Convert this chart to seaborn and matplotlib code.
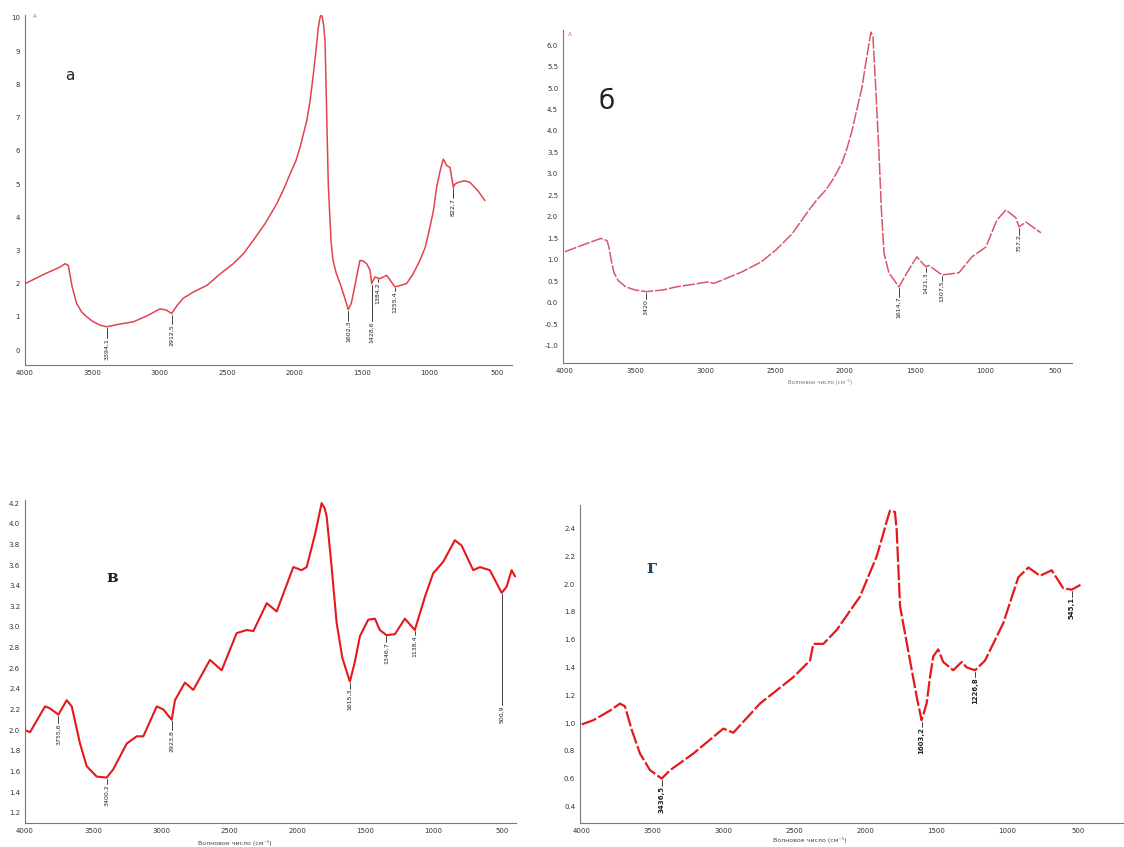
import numpy as np
import pandas as pd
import matplotlib
matplotlib.use("Agg")
import matplotlib.pyplot as plt
import seaborn as sns
from matplotlib.ticker import MultipleLocator, FormatStrFormatter

sns.set_style("white")
plt.rcParams['font.family'] = ['DejaVu Sans']

# ---------------- data ----------------
# Panel а
a_wn = [4000, 3850, 3740, 3703, 3679, 3650, 3617, 3580, 3542, 3500, 3444, 3394, 3300, 3197,
        3100, 2998, 2950, 2912, 2870, 2826, 2750, 2650, 2550, 2455, 2380, 2307, 2220, 2133,
        2080, 2034, 1990, 1960, 1935, 1910, 1885, 1861, 1842, 1824, 1812, 1804, 1796, 1785,
        1774, 1750, 1730, 1715, 1690, 1662, 1630, 1602, 1580, 1564, 1540, 1515, 1490, 1465,
        1440, 1428, 1404, 1366, 1317, 1255, 1169, 1120, 1070, 1030, 996, 970, 946, 920, 897,
        870, 847, 822, 810, 785, 740, 699, 640, 588]
a_val = [2.0, 2.3, 2.5, 2.6, 2.55, 1.9, 1.4, 1.15, 1.0, 0.87, 0.75, 0.7, 0.78, 0.85,
         1.02, 1.24, 1.2, 1.1, 1.35, 1.56, 1.75, 1.95, 2.3, 2.6, 2.9, 3.3, 3.8, 4.4,
         4.85, 5.3, 5.7, 6.1, 6.5, 6.9, 7.5, 8.3, 9.0, 9.7, 10.0, 10.1, 10.05, 9.8,
         9.3, 5.0, 3.3, 2.7, 2.3, 2.0, 1.6, 1.22, 1.4, 1.7, 2.2, 2.7, 2.68, 2.6,
         2.4, 2.0, 2.2, 2.15, 2.25, 1.9, 2.0, 2.3, 2.7, 3.1, 3.7, 4.2, 4.9, 5.4, 5.75,
         5.55, 5.5, 4.9, 5.0, 5.05, 5.1, 5.05, 4.8, 4.5]
a_peaks = [3394, 2912, 1602, 1428, 1384, 1255, 822]
a_labels = ["3394,1", "2912,5", "1602,3", "1428,6", "1384,2", "1255,4", "822,7"]

# Panel б
b_wn = [4000, 3870, 3743, 3700, 3686, 3670, 3650, 3620, 3565, 3500, 3420, 3300, 3207, 2971,
        2940, 2900, 2736, 2600, 2493, 2379, 2257, 2200, 2136, 2080, 2021, 1985, 1950, 1915,
        1879, 1850, 1830, 1814, 1800, 1780, 1757, 1740, 1721, 1686, 1614, 1557, 1486, 1440,
        1421, 1400, 1307, 1186, 1093, 993, 914, 850, 779, 757, 707, 600]
b_val = [1.19, 1.35, 1.5, 1.45, 1.3, 1.0, 0.7, 0.52, 0.37, 0.3, 0.26, 0.3, 0.37, 0.49,
         0.45, 0.5, 0.72, 0.95, 1.23, 1.6, 2.16, 2.4, 2.63, 2.9, 3.26, 3.6, 4.0, 4.5,
         5.0, 5.6, 6.0, 6.3, 6.2, 5.0, 3.5, 2.2, 1.16, 0.7, 0.37, 0.7, 1.07, 0.9,
         0.84, 0.87, 0.65, 0.7, 1.07, 1.3, 1.93, 2.16, 1.98, 1.77, 1.88, 1.63]
b_peaks = [3420, 1614, 1421, 1307, 757]
b_labels = ["3420", "1614,7", "1421,3", "1307,5", "757,2"]

# Panel в
c_wn = [4000, 3963, 3853, 3816, 3755, 3694, 3657, 3596, 3547, 3474, 3400, 3352, 3253, 3180,
        3131, 3033, 2984, 2923, 2899, 2826, 2764, 2642, 2556, 2446, 2372, 2323, 2225, 2152,
        2030, 1969, 1932, 1870, 1822, 1800, 1785, 1750, 1712, 1670, 1615, 1580, 1541, 1480,
        1431, 1395, 1346, 1284, 1211, 1138, 1064, 1003, 930, 844, 795, 709, 660, 587, 500,
        464, 427, 402]
c_val = [2.0, 1.98, 2.23, 2.21, 2.15, 2.29, 2.23, 1.87, 1.65, 1.55, 1.54, 1.62, 1.87, 1.94,
         1.94, 2.23, 2.2, 2.1, 2.29, 2.46, 2.39, 2.68, 2.58, 2.94, 2.97, 2.96, 3.23, 3.15,
         3.58, 3.55, 3.58, 3.9, 4.2, 4.15, 4.07, 3.6, 3.04, 2.7, 2.47, 2.65, 2.91, 3.07,
         3.08, 2.97, 2.92, 2.93, 3.08, 2.97, 3.29, 3.52, 3.63, 3.84, 3.79, 3.55, 3.58, 3.55,
         3.33, 3.39, 3.55, 3.49]
c_peaks = [3755, 3400, 2923, 1615, 1346, 1138, 500]
c_labels = ["3755,6", "3400,2", "2923,8", "1615,3", "1346,7", "1138,4", "500,9"]

# Panel г
d_wn = [4000, 3918, 3800, 3730, 3695, 3647, 3589, 3518, 3436, 3377, 3213, 3001, 2931, 2743,
        2508, 2390, 2367, 2296, 2202, 2038, 1920, 1880, 1850, 1826, 1791, 1779, 1755, 1685,
        1638, 1603, 1568, 1544, 1521, 1486, 1451, 1380, 1320, 1285, 1226, 1156, 1027, 921,
        850, 768, 686, 604, 545, 474]
d_val = [0.99, 1.02, 1.09, 1.14, 1.12, 0.95, 0.78, 0.66, 0.6, 0.66, 0.78, 0.96, 0.93, 1.14,
         1.33, 1.45, 1.57, 1.57, 1.67, 1.91, 2.2, 2.34, 2.45, 2.53, 2.52, 2.39, 1.84, 1.45,
         1.19, 1.02, 1.14, 1.33, 1.48, 1.53, 1.44, 1.38, 1.44, 1.40, 1.38, 1.45, 1.72, 2.05,
         2.12, 2.06, 2.1, 1.97, 1.96, 2.0]
d_peaks = [3436, 1603, 1226, 545]
d_labels = ["3436,5", "1603,2", "1226,8", "545,1"]

x_label = "Волновое число (см⁻¹)"

# ---------------- figure ----------------
W, H = 1124, 847
fig = plt.figure(figsize=(W / 100, H / 100), dpi=100)


def add_axes(left, right, top, bottom):
    return fig.add_axes([left / W, 1 - bottom / H, (right - left) / W, (bottom - top) / H])


def style(ax, xlim, ylim, ymaj, ymin, yfmt):
    ax.set_xlim(*xlim)
    ax.set_ylim(*ylim)
    ax.xaxis.set_major_locator(MultipleLocator(500))
    ax.xaxis.set_minor_locator(MultipleLocator(100))
    ax.yaxis.set_major_locator(MultipleLocator(ymaj))
    ax.yaxis.set_minor_locator(MultipleLocator(ymin))
    ax.xaxis.set_major_formatter(FormatStrFormatter("%d"))
    ax.yaxis.set_major_formatter(FormatStrFormatter(yfmt))
    for s in ["top", "right"]:
        ax.spines[s].set_visible(False)
    for s in ["left", "bottom"]:
        ax.spines[s].set_color("#777777")
        ax.spines[s].set_linewidth(0.8)
    ax.tick_params(which="major", direction="inout", length=3, width=0.6,
                   color="#555555", labelsize=5, labelcolor="#333333", pad=2)
    ax.tick_params(which="minor", direction="inout", length=1.8, width=0.5, color="#777777")
    ax.set_xlabel("")
    ax.set_ylabel("")
    ax.patch.set_alpha(0)


def annotate(ax, wn, val, peaks, labels, lengths, gap, fs=4.5, weight="normal"):
    for p, lab, ln in zip(peaks, labels, lengths):
        y0 = np.interp(p, wn[::-1], val[::-1])
        ax.plot([p, p], [y0 - gap, y0 - gap - ln], color="#222222", lw=0.6)
        ax.text(p, y0 - gap - ln, lab, rotation=90, ha="center", va="top",
                fontsize=fs, color="#222222", fontweight=weight)


def draw(ax, wn, val, color, lw, ls="-"):
    df = pd.DataFrame({"wn": wn, "val": val})
    sns.lineplot(data=df, x="wn", y="val", ax=ax, sort=False, estimator=None,
                 color=color, lw=lw, linestyle=ls, legend=False)


# Panel а
axa = add_axes(25, 512, 15, 365)
draw(axa, a_wn, a_val, "#e2434d", 1.1)
style(axa, (4000, 387), (-0.45, 10.09), 1, 0.2, "%d")
annotate(axa, np.array(a_wn), np.array(a_val), a_peaks, a_labels,
         [0.3, 0.3, 0.3, 1.1, 0.1, 0.1, 0.3], 0.03)
fig.text(70 / W, 1 - 76 / H, "а", fontsize=11, ha="center", va="center", color="#222222")
fig.text(33 / W, 1 - 17 / H, "A", fontsize=4, color="#e2434d", va="center")

# Panel б
axb = add_axes(563, 1072, 30, 363)
draw(axb, b_wn, b_val, "#d9566b", 1.1, (0, (8, 1.2)))
style(axb, (4014, 378), (-1.40, 6.35), 0.5, 0.1, "%.1f")
annotate(axb, np.array(b_wn), np.array(b_val), b_peaks, b_labels,
         [0.15, 0.2, 0.1, 0.1, 0.15], 0.03)
fig.text(607 / W, 1 - 102 / H, "б", fontsize=19, ha="center", va="center", color="#222222")
fig.text(568 / W, 1 - 35 / H, "A", fontsize=4, color="#d9566b", va="center")
fig.text(820 / W, 1 - 382 / H, x_label, fontsize=4, ha="center", va="center", color="#777777")

# Panel в
axc = add_axes(25, 516, 500, 823)
draw(axc, c_wn, c_val, "#e3191c", 1.5)
style(axc, (4000, 395), (1.10, 4.23), 0.2, 0.05, "%.1f")
annotate(axc, np.array(c_wn), np.array(c_val), c_peaks, c_labels,
         [0.07, 0.05, 0.09, 0.06, 0.06, 0.04, 1.08], 0.01)
fig.text(112 / W, 1 - 578 / H, "в", fontsize=12, ha="center", va="center",
         family="DejaVu Serif", fontweight="bold", color="#222222")
fig.text(235 / W, 1 - 843 / H, x_label, fontsize=4.5, ha="center", va="center", color="#444444")

# Panel г
axd = add_axes(580, 1124, 505, 823)
draw(axd, d_wn, d_val, "#e3191c", 1.6, (0, (7, 1.2)))
style(axd, (4012, 176), (0.28, 2.57), 0.2, 0.05, "%.1f")
annotate(axd, np.array(d_wn), np.array(d_val), d_peaks, d_labels,
         [0.04, 0.04, 0.04, 0.04], 0.01, fs=5, weight="bold")
fig.text(652 / W, 1 - 568 / H, "г", fontsize=13, ha="center", va="center",
         family="DejaVu Serif", fontweight="bold", color="#1d4a6e")
fig.text(810 / W, 1 - 840 / H, x_label, fontsize=4.5, ha="center", va="center", color="#444444")

fig.savefig("out.png", dpi=100, facecolor="white")
